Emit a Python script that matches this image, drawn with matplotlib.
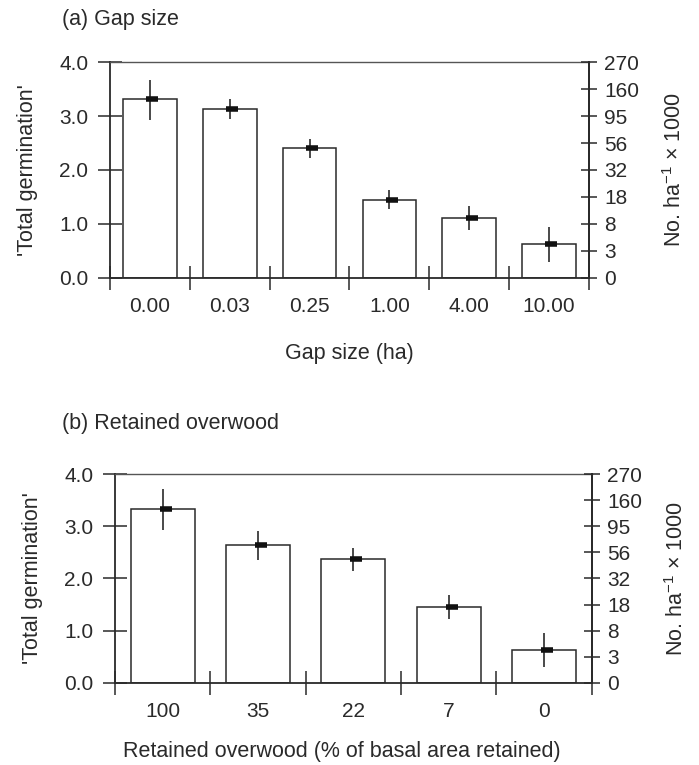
import numpy as np
from matplotlib import pyplot as plt

plt.rcParams['font.family'] = ['Liberation Sans', 'DejaVu Sans']
plt.rcParams['mathtext.fontset'] = 'custom'
plt.rcParams['mathtext.rm'] = 'Liberation Sans'
plt.rcParams['mathtext.it'] = 'Liberation Sans:italic'

# (a) gap size
gap_labels = ['0.00', '0.03', '0.25', '1.00', '4.00', '10.00']
gap_mean = [3.32, 3.13, 2.40, 1.45, 1.11, 0.63]
gap_hi = [3.68, 3.32, 2.57, 1.62, 1.34, 0.94]
gap_lo = [2.93, 2.94, 2.22, 1.27, 0.89, 0.30]

# (b) retained overwood
ret_labels = ['100', '35', '22', '7', '0']
ret_mean = [3.33, 2.64, 2.37, 1.45, 0.63]
ret_hi = [3.71, 2.91, 2.59, 1.68, 0.95]
ret_lo = [2.93, 2.35, 2.14, 1.22, 0.31]

right_ticks = np.arange(0, 4.01, 0.5)
right_labels = ['0', '3', '8', '18', '32', '56', '95', '160', '270']

dark = '#2a2a2a'
fs = 15
lfs = 15.5


def panel(ax, labels, mean, hi, lo, xlabel, xlab_x=0.5, xpad=19):
    n = len(labels)
    x = np.arange(n)
    ax.bar(x, mean, width=0.67, color='white', edgecolor=dark, linewidth=1.1, zorder=2)
    mean = np.array(mean)
    yerr = [mean - np.array(lo), np.array(hi) - mean]
    ax.errorbar(x, mean, yerr=yerr, fmt='none', ecolor=dark, elinewidth=1.2, capsize=0, zorder=3)
    ax.plot(x + 0.03, mean, ls='none', marker='_', ms=8, mew=4, color='#111111', zorder=4)
    ax.set_xlim(-0.5, n - 0.5)
    ax.set_ylim(0, 4)
    ax.set_yticks([0, 1, 2, 3, 4])
    ax.set_yticklabels(['0.0', '1.0', '2.0', '3.0', '4.0'], fontsize=fs)
    ax.set_xticks(x)
    ax.set_xticklabels(labels, fontsize=fs)
    ax.set_xticks(np.arange(n + 1) - 0.5, minor=True)
    ax.tick_params(axis='x', which='major', length=0, pad=14, colors=dark)
    ax.tick_params(axis='x', which='minor', length=17, direction='inout', width=1.1, color=dark)
    ax.tick_params(axis='y', length=17, direction='inout', width=1.1, pad=7, colors=dark)
    for s in ['left', 'bottom', 'right']:
        ax.spines[s].set_color(dark)
        ax.spines[s].set_linewidth(1.3)
    ax.spines['top'].set_color('#555555')
    ax.spines['top'].set_linewidth(1.0)
    ax.set_ylabel("'Total germination'", fontsize=lfs, color=dark, labelpad=15)
    ax.set_xlabel(xlabel, fontsize=lfs, color=dark, labelpad=xpad)
    ax.xaxis.label.set_x(xlab_x)
    ax2 = ax.twinx()
    ax2.set_ylim(0, 4)
    ax2.set_yticks(right_ticks)
    ax2.set_yticklabels(right_labels, fontsize=fs)
    ax2.tick_params(axis='y', length=12, direction='inout', width=1.1, pad=5, colors=dark)
    for s in ['left', 'bottom', 'top']:
        ax2.spines[s].set_visible(False)
    ax2.spines['right'].set_color(dark)
    ax2.spines['right'].set_linewidth(1.3)
    ax2.set_ylabel('No. ha$^{-1}$ $\\times$ 1000', fontsize=lfs, color=dark, labelpad=17)
    return ax2


fig = plt.figure(figsize=(6.99, 7.65), dpi=100)
ax_a = fig.add_axes([0.1574, 0.637, 0.6852, 0.2816])
ax_b = fig.add_axes([0.1645, 0.1076, 0.682, 0.2724])

panel(ax_a, gap_labels, gap_mean, gap_hi, gap_lo, 'Gap size (ha)')
panel(ax_b, ret_labels, ret_mean, ret_hi, ret_lo,
      'Retained overwood (% of basal area retained)', xlab_x=0.476, xpad=14)

fig.text(62 / 699, 1 - 20 / 765, '(a) Gap size', fontsize=lfs, color=dark, va='center')
fig.text(62 / 699, 1 - 423 / 765, '(b) Retained overwood', fontsize=lfs, color=dark, va='center')

fig.savefig('out.png', dpi=100)
